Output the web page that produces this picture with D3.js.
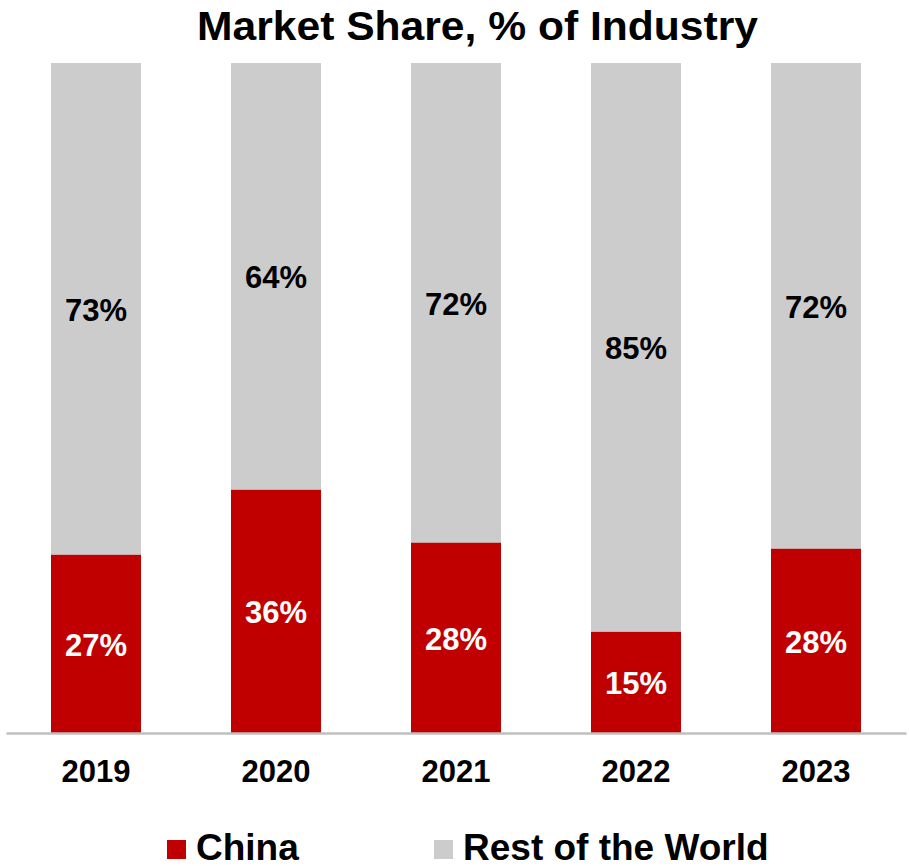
<!DOCTYPE html>
<html><head><meta charset="utf-8">
<script src="https://cdn.jsdelivr.net/npm/d3@7"></script>
<style>body{margin:0;background:#fff}svg{display:block;font-family:"Liberation Sans",Arial,sans-serif;font-weight:bold}</style>
</head><body><svg id="c" width="909" height="866"></svg>
<script>
const years = ["2019","2020","2021","2022","2023"];
const china = [26.6, 36.3, 28.4, 15.1, 27.5];
const chinaLabels = ["27%","36%","28%","15%","28%"];
const restLabels = ["73%","64%","72%","85%","72%"];
const seriesNames = ["China","Rest of the World"];
const colors = ["#C00000","#CCCCCC"];

const svg = d3.select("#c");
const x = d3.scaleBand().domain(years).range([6,906]).paddingInner(0.5).paddingOuter(0.25);
const y = d3.scaleLinear().domain([0,100]).range([733,63]);

const data = years.map((yr,i)=>({yr, c:china[i], r:100-china[i], cl:chinaLabels[i], rl:restLabels[i]}));

svg.append("text").attr("x",477.5).attr("y",39.5).attr("text-anchor","middle")
  .attr("font-size",41).attr("textLength",561).attr("lengthAdjust","spacingAndGlyphs")
  .attr("fill","#000").text("Market Share, % of Industry");

const g = svg.append("g");
g.selectAll(".rest").data(data).join("rect")
  .attr("x",d=>x(d.yr)).attr("width",x.bandwidth())
  .attr("y",d=>y(100)).attr("height",d=>y(d.c)-y(100)).attr("fill",colors[1]);
g.selectAll(".china").data(data).join("rect")
  .attr("x",d=>x(d.yr)).attr("width",x.bandwidth())
  .attr("y",d=>y(d.c)).attr("height",d=>y(0)-y(d.c)).attr("fill",colors[0]);

g.selectAll(".cl").data(data).join("text")
  .attr("x",d=>x(d.yr)+x.bandwidth()/2).attr("y",d=>(y(d.c)+y(0))/2)
  .attr("dy","0.38em").attr("text-anchor","middle").attr("font-size",31).attr("fill","#fff").text(d=>d.cl);
g.selectAll(".rl").data(data).join("text")
  .attr("x",d=>x(d.yr)+x.bandwidth()/2).attr("y",d=>(y(100)+y(d.c))/2)
  .attr("dy","0.38em").attr("text-anchor","middle").attr("font-size",31).attr("fill","#000").text(d=>d.rl);

const ax = svg.append("g").attr("transform","translate(0,733)")
  .call(d3.axisBottom(x).tickSize(0).tickPadding(27));
ax.select(".domain").attr("stroke","#BFBFBF").attr("stroke-width",2.5);
ax.selectAll("text").attr("font-size",31).attr("font-family","Liberation Sans, Arial, sans-serif")
  .attr("font-weight","bold").attr("fill","#000");

const leg = svg.append("g");
const lx = [167, 434];
seriesNames.forEach((n,i)=>{
  leg.append("rect").attr("x",lx[i]).attr("y",840).attr("width",19).attr("height",19).attr("fill",colors[i]);
  leg.append("text").attr("x",lx[i]+29).attr("y",860).attr("font-size",37).attr("fill","#000").text(n);
});
</script></body></html>
